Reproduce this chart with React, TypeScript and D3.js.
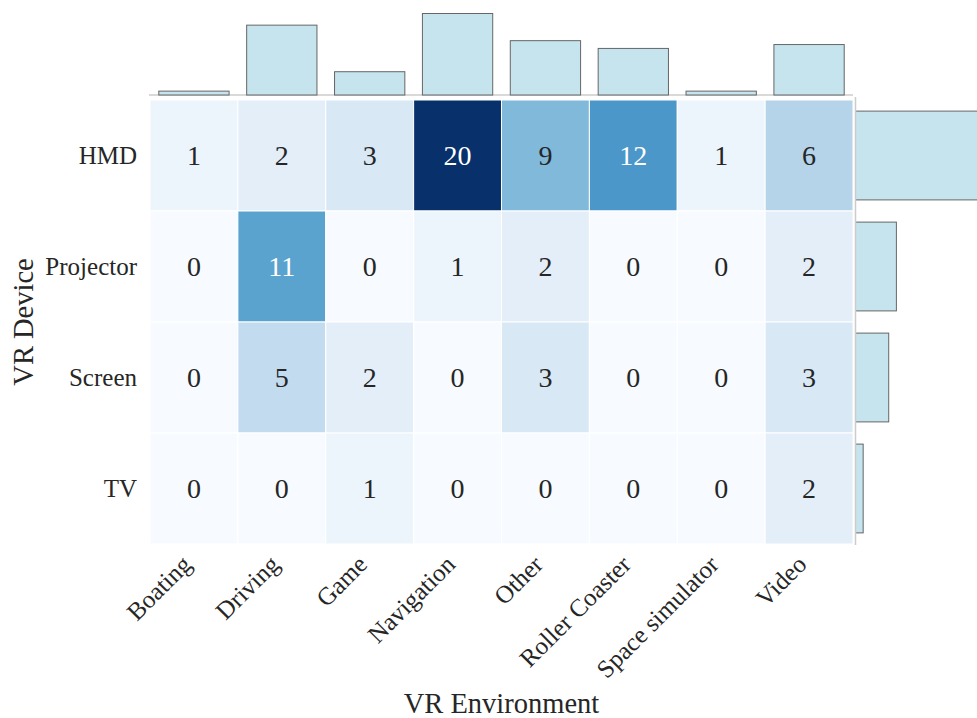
import { useEffect, useRef } from "react";
import * as d3 from "d3";

const environments = [
  "Boating",
  "Driving",
  "Game",
  "Navigation",
  "Other",
  "Roller Coaster",
  "Space simulator",
  "Video",
];
const devices = ["HMD", "Projector", "Screen", "TV"];

// counts per device, one value per environment
const hmdCounts = [1, 2, 3, 20, 9, 12, 1, 6];
const projectorCounts = [0, 11, 0, 1, 2, 0, 0, 2];
const screenCounts = [0, 5, 2, 0, 3, 0, 0, 3];
const tvCounts = [0, 0, 1, 0, 0, 0, 0, 2];

const counts = [hmdCounts, projectorCounts, screenCounts, tvCounts];

const FONT = "'Liberation Serif', 'Times New Roman', serif";

export default function App() {
  const svgRef = useRef<SVGSVGElement>(null);
  const width = 977;
  const height = 718;
  const margin = { top: 100, right: 124, bottom: 174, left: 150 };

  useEffect(() => {
    const svg = d3.select(svgRef.current);
    svg.selectAll("*").remove();

    const x0 = margin.left;
    const x1 = width - margin.right;
    const y0 = margin.top;
    const y1 = height - margin.bottom;

    // heatmap scales
    const x = d3.scaleBand().domain(environments).range([x0, x1]);
    const y = d3.scaleBand().domain(devices).range([y0, y1]);
    const color = d3.scaleSequential(d3.interpolateBlues).domain([0, 20]);

    const cells = devices.flatMap((dev, i) =>
      environments.map((env, j) => ({ dev, env, value: counts[i][j] }))
    );

    const g = svg.append("g");

    g.selectAll("rect.cell")
      .data(cells)
      .join("rect")
      .attr("class", "cell")
      .attr("x", (d) => x(d.env)!)
      .attr("y", (d) => y(d.dev)!)
      .attr("width", x.bandwidth())
      .attr("height", y.bandwidth())
      .attr("fill", (d) => color(d.value))
      .attr("stroke", "white")
      .attr("stroke-width", 1);

    g.selectAll("text.val")
      .data(cells)
      .join("text")
      .attr("class", "val")
      .attr("x", (d) => x(d.env)! + x.bandwidth() / 2)
      .attr("y", (d) => y(d.dev)! + y.bandwidth() / 2)
      .attr("dy", "0.35em")
      .attr("text-anchor", "middle")
      .attr("font-family", FONT)
      .attr("font-size", 28)
      .attr("fill", (d) => (d.value >= 10 ? "white" : "#262626"))
      .text((d) => d.value);

    // row labels
    g.selectAll("text.row")
      .data(devices)
      .join("text")
      .attr("class", "row")
      .attr("x", x0 - 13)
      .attr("y", (d) => y(d)! + y.bandwidth() / 2)
      .attr("dy", "0.35em")
      .attr("text-anchor", "end")
      .attr("font-family", FONT)
      .attr("font-size", 25)
      .attr("fill", "#262626")
      .text((d) => d);

    // column labels, rotated
    g.selectAll("text.col")
      .data(environments)
      .join("text")
      .attr("class", "col")
      .attr("text-anchor", "end")
      .attr("font-family", FONT)
      .attr("font-size", 25)
      .attr("fill", "#262626")
      .attr("transform", (d) => {
        const px = x(d)! + x.bandwidth() / 2 - 1;
        const py = y1 + 22;
        return `translate(${px},${py}) rotate(-45)`;
      })
      .text((d) => d);

    // axis titles
    g.append("text")
      .attr("x", (x0 + x1) / 2)
      .attr("y", 713)
      .attr("text-anchor", "middle")
      .attr("font-family", FONT)
      .attr("font-size", 28.5)
      .attr("fill", "#262626")
      .text("VR Environment");

    g.append("text")
      .attr("transform", `translate(33,${(y0 + y1) / 2}) rotate(-90)`)
      .attr("text-anchor", "middle")
      .attr("font-family", FONT)
      .attr("font-size", 28.5)
      .attr("fill", "#262626")
      .text("VR Device");

    // top marginal bars: totals per environment
    const colTotals = environments.map((env, j) => ({
      env,
      total: d3.sum(counts, (row) => row[j]),
    }));
    const topBase = y0 - 5;
    const yTop = d3
      .scaleLinear()
      .domain([0, d3.max(colTotals, (d) => d.total)!])
      .range([topBase, topBase - 81.5]);
    const xInner = x.bandwidth() * 0.8;

    g.append("line")
      .attr("x1", x0 - 1)
      .attr("x2", x1)
      .attr("y1", topBase)
      .attr("y2", topBase)
      .attr("stroke", "#cccccc")
      .attr("stroke-width", 1.5);

    g.selectAll("rect.top")
      .data(colTotals)
      .join("rect")
      .attr("class", "top")
      .attr("x", (d) => x(d.env)! + (x.bandwidth() - xInner) / 2)
      .attr("y", (d) => yTop(d.total))
      .attr("width", xInner)
      .attr("height", (d) => topBase - yTop(d.total))
      .attr("fill", "#c5e4ed")
      .attr("stroke", "#666666")
      .attr("stroke-width", 1);

    // right marginal bars: totals per device
    const rowTotals = devices.map((dev, i) => ({
      dev,
      total: d3.sum(counts[i]),
    }));
    const rightBase = x1 + 2.5;
    const xRight = d3
      .scaleLinear()
      .domain([0, d3.max(rowTotals, (d) => d.total)!])
      .range([rightBase, rightBase + 138]);
    const yInner = y.bandwidth() * 0.8;

    g.selectAll("rect.right")
      .data(rowTotals)
      .join("rect")
      .attr("class", "right")
      .attr("x", rightBase)
      .attr("y", (d) => y(d.dev)! + (y.bandwidth() - yInner) / 2)
      .attr("width", (d) => xRight(d.total) - rightBase)
      .attr("height", yInner)
      .attr("fill", "#c5e4ed")
      .attr("stroke", "#666666")
      .attr("stroke-width", 1);

    g.append("line")
      .attr("x1", rightBase)
      .attr("x2", rightBase)
      .attr("y1", y0 - 3)
      .attr("y2", y1 + 1)
      .attr("stroke", "#cccccc")
      .attr("stroke-width", 1.5);
  }, []);

  return (
    <svg
      ref={svgRef}
      width={width}
      height={height}
      style={{ position: "absolute", left: 0, top: 0, background: "white" }}
    ></svg>
  );
}
